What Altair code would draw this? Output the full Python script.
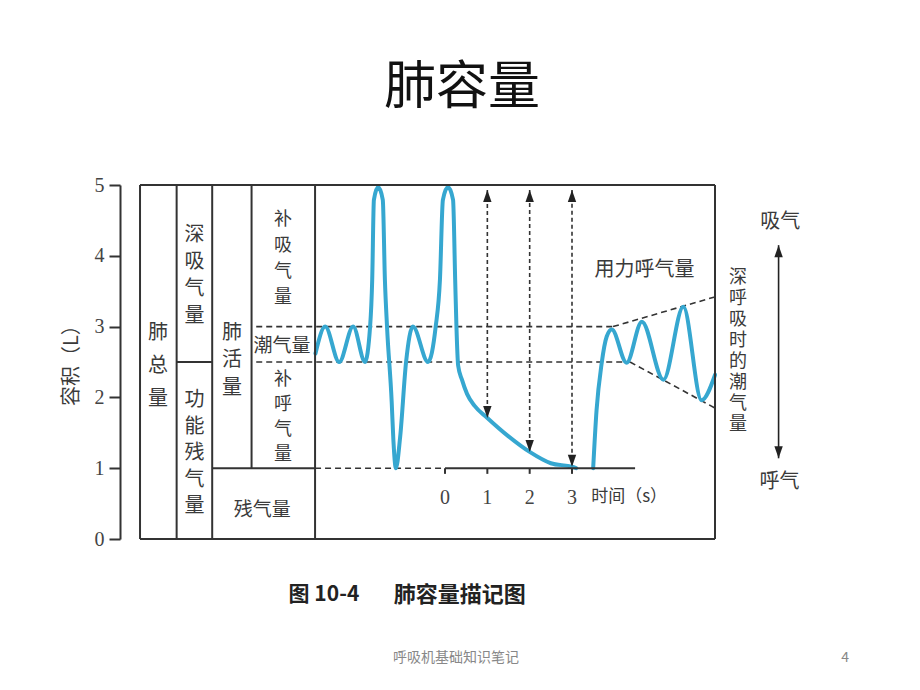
import altair as alt
import pandas as pd

# ---------------- data (x = time in s, y = volume in L) ----------------
Y_TICKS = [0, 1, 2, 3, 4, 5]
TIME_TICKS = [0, 1, 2, 3]
TIME_TICK_LABELS = ["0", "1", "2", "3"]

TLC = 5.0      # 肺总量 top
RV = 1.0       # 残气量 level
FRC = 2.5      # 功能残气量 level
VT_TOP = 3.0   # 潮气量 top

trace1_t = [-3.06, -2.83, -2.50, -2.17, -1.89, -1.77, -1.72, -1.68, -1.58, -1.47,
            -1.42, -1.37, -1.26, -1.22, -1.16, -1.06, -0.92, -0.76, -0.40, -0.22,
            -0.12, -0.05, 0.07, 0.19, 0.24, 0.27, 0.31, 0.40, 0.52, 0.70,
            1.00, 1.50, 2.00, 2.50, 3.00, 3.10]
trace1_v = [2.62, 3.00, 2.50, 3.00, 2.50, 3.00, 3.66, 4.79, 4.97, 4.79,
            3.66, 3.00, 1.94, 1.40, 1.00, 1.44, 2.50, 3.00, 2.50, 3.00,
            3.66, 4.79, 4.97, 4.79, 3.66, 3.00, 2.45, 2.25, 2.05, 1.88,
            1.71, 1.45, 1.23, 1.07, 1.02, 1.00]

trace2_t = [3.50, 3.58, 3.70, 3.82, 3.94, 4.29, 4.65, 5.16, 5.63, 6.06, 6.38]
trace2_v = [1.00, 1.82, 2.48, 2.86, 2.96, 2.49, 3.07, 2.25, 3.28, 1.96, 2.32]

fev_t = [1, 2, 3]
fev_v = [1.71, 1.23, 1.02]
fev_top = 4.93

deep_upper_end = 3.42
deep_lower_end = 1.85

# ---------------- layout (in data units) ----------------
X_MIN, X_MAX = -7.678, 6.378
COLS = [-7.205, -6.34, -5.50, -4.57, -3.07]
DASH_START = -4.46
VT_DASH_END = 3.97
FRC_DASH_END = 4.37
AXIS_END = 4.49
ARROW_X = 7.88

FONT = "Noto Sans CJK SC"
SERIF = "Liberation Serif"
INK = "#333333"
BLUE = "#36a7d0"

xs = alt.Scale(domain=[X_MIN, X_MAX], nice=False, zero=False)
ys = alt.Scale(domain=[0, 5], nice=False, zero=False)
yaxis = alt.Axis(values=Y_TICKS, title=None, domainColor=INK, domainWidth=2,
                 tickColor=INK, tickWidth=2, tickSize=11, labelFont=SERIF,
                 labelFontSize=20, labelColor="#444444", labelPadding=5, grid=False)


def X():
    return alt.X("x:Q", scale=xs, axis=None)


def Y():
    return alt.Y("y:Q", scale=ys, axis=yaxis)


def segs(rows):
    return pd.DataFrame(rows, columns=["x", "y", "x2", "y2"])


# solid box / axis segments
c0, c1, c2, c3, c4 = COLS
solid = segs([
    (c0, TLC, X_MAX, TLC), (c0, 0, X_MAX, 0), (c0, 0, c0, TLC), (X_MAX, 0, X_MAX, TLC),
    (c1, 0, c1, TLC), (c2, 0, c2, TLC), (c3, RV, c3, TLC), (c4, 0, c4, TLC),
    (c1, FRC, c2, FRC), (c2, RV, c4, RV),
    (0, RV, AXIS_END, RV),
] + [(t, RV, t, RV - 0.08) for t in TIME_TICKS])

dashed = segs([
    (DASH_START, VT_TOP, VT_DASH_END, VT_TOP),
    (DASH_START, FRC, FRC_DASH_END, FRC),
    (c4, RV, 0, RV),
    (VT_DASH_END, VT_TOP, X_MAX, deep_upper_end),
    (FRC_DASH_END, FRC, X_MAX, deep_lower_end),
])

fev_lines = segs([(t, b, t, fev_top) for t, b in zip(fev_t, fev_v)])
side_arrow = segs([(ARROW_X, 1.14, ARROW_X, 4.15)])

up_heads = pd.DataFrame({"x": fev_t + [ARROW_X], "y": [fev_top] * 3 + [4.15]})
down_heads = pd.DataFrame({"x": fev_t + [ARROW_X], "y": fev_v + [1.14]})

tr1 = pd.DataFrame({"x": trace1_t, "y": trace1_v})
tr2 = pd.DataFrame({"x": trace2_t, "y": trace2_v})

layers = []
layers.append(alt.Chart(dashed).mark_rule(color=INK, strokeWidth=1.6, strokeDash=[6, 4])
              .encode(x=X(), y=Y(), x2="x2:Q", y2="y2:Q"))
layers.append(alt.Chart(fev_lines).mark_rule(color=INK, strokeWidth=1.6, strokeDash=[4, 3])
              .encode(x=X(), y=Y(), x2="x2:Q", y2="y2:Q"))
for tr in (tr1, tr2):
    layers.append(alt.Chart(tr).mark_line(color=BLUE, strokeWidth=4, interpolate="monotone",
                                          strokeCap="round", strokeJoin="round")
                  .encode(x=X(), y=Y()))
layers.append(alt.Chart(solid).mark_rule(color=INK, strokeWidth=2)
              .encode(x=X(), y=Y(), x2="x2:Q", y2="y2:Q"))
layers.append(alt.Chart(side_arrow).mark_rule(color="#222222", strokeWidth=1.6)
              .encode(x=X(), y=Y(), x2="x2:Q", y2="y2:Q"))
layers.append(alt.Chart(up_heads).mark_point(shape="M0,0L0.7,2L-0.7,2Z", filled=True, size=144,
                                             color="#222222", opacity=1)
              .encode(x=X(), y=Y()))
layers.append(alt.Chart(down_heads).mark_point(shape="M0,0L0.7,-2L-0.7,-2Z", filled=True, size=144,
                                               color="#222222", opacity=1)
              .encode(x=X(), y=Y()))


def text_layer(rows, font=FONT, size=19, color="#3a3a3a", weight="normal", lh=None, angle=0):
    df = pd.DataFrame(rows, columns=["label", "x", "y"])
    kw = dict(font=font, fontSize=size, color=color, fontWeight=weight, align="center",
              baseline="middle", lineBreak="\n")
    if lh is not None:
        kw["lineHeight"] = lh
    if angle:
        kw["angle"] = angle
    return alt.Chart(df).mark_text(**kw).encode(x=X(), y=Y(), text="label:N")


def vert(s):
    return "\n".join(s)


# vertical labels: y is the position of the first character
layers.append(text_layer([(vert("肺总量"), -6.78, 2.91)], size=20, lh=33))
layers.append(text_layer([(vert("深吸气量"), -5.92, 4.29)], size=20, lh=27))
layers.append(text_layer([(vert("功能残气量"), -5.92, 1.96)], size=20, lh=26.5))
layers.append(text_layer([(vert("肺活量"), -5.03, 2.91)], size=20, lh=27.5))
layers.append(text_layer([(vert("补吸气量"), -3.83, 4.51)], size=18, lh=26))
layers.append(text_layer([(vert("补呼气量"), -3.83, 2.25)], size=18, lh=25))
layers.append(text_layer([("潮气量", -3.85, 2.73), ("残气量", -4.32, 0.41)], size=19))
layers.append(text_layer([("用力呼气量", 4.71, 3.80)], size=20))
layers.append(text_layer([(vert("深呼吸时的潮气量"), 6.92, 3.69)], size=18, lh=21))
layers.append(text_layer([("吸气", 7.92, 4.48), ("呼气", 7.90, 0.80)], size=20))
layers.append(text_layer([("时间（s）", 4.35, 0.60)], size=17))
layers.append(text_layer(list(zip(TIME_TICK_LABELS, TIME_TICKS, [0.58] * 4)), font=SERIF, size=20,
                         color="#444444"))
layers.append(text_layer([("容积（L）", -8.81, 2.52)], size=20, angle=270))
layers.append(text_layer([("图 10-4", -2.86, -0.79)], size=21, color="#222222", weight="bold"))
layers.append(text_layer([("肺容量描记图", 0.35, -0.79)], size=22, color="#222222", weight="bold"))
layers.append(text_layer([("肺容量", 0.40, 6.37)], size=52, color="#111111"))
layers.append(text_layer([("呼吸机基础知识笔记", 0.26, -1.68), ("4", 9.45, -1.68)], size=14,
                         color="#888888"))

chart = alt.layer(*layers).properties(
    width=595, height=354,
    padding={"left": 120, "top": 185, "right": 205, "bottom": 151},
    autosize=alt.AutoSizeParams(type="none"),
    background="white",
).configure_view(stroke=None)

chart.save("out.html", embed_options={"renderer": "svg", "actions": False})
